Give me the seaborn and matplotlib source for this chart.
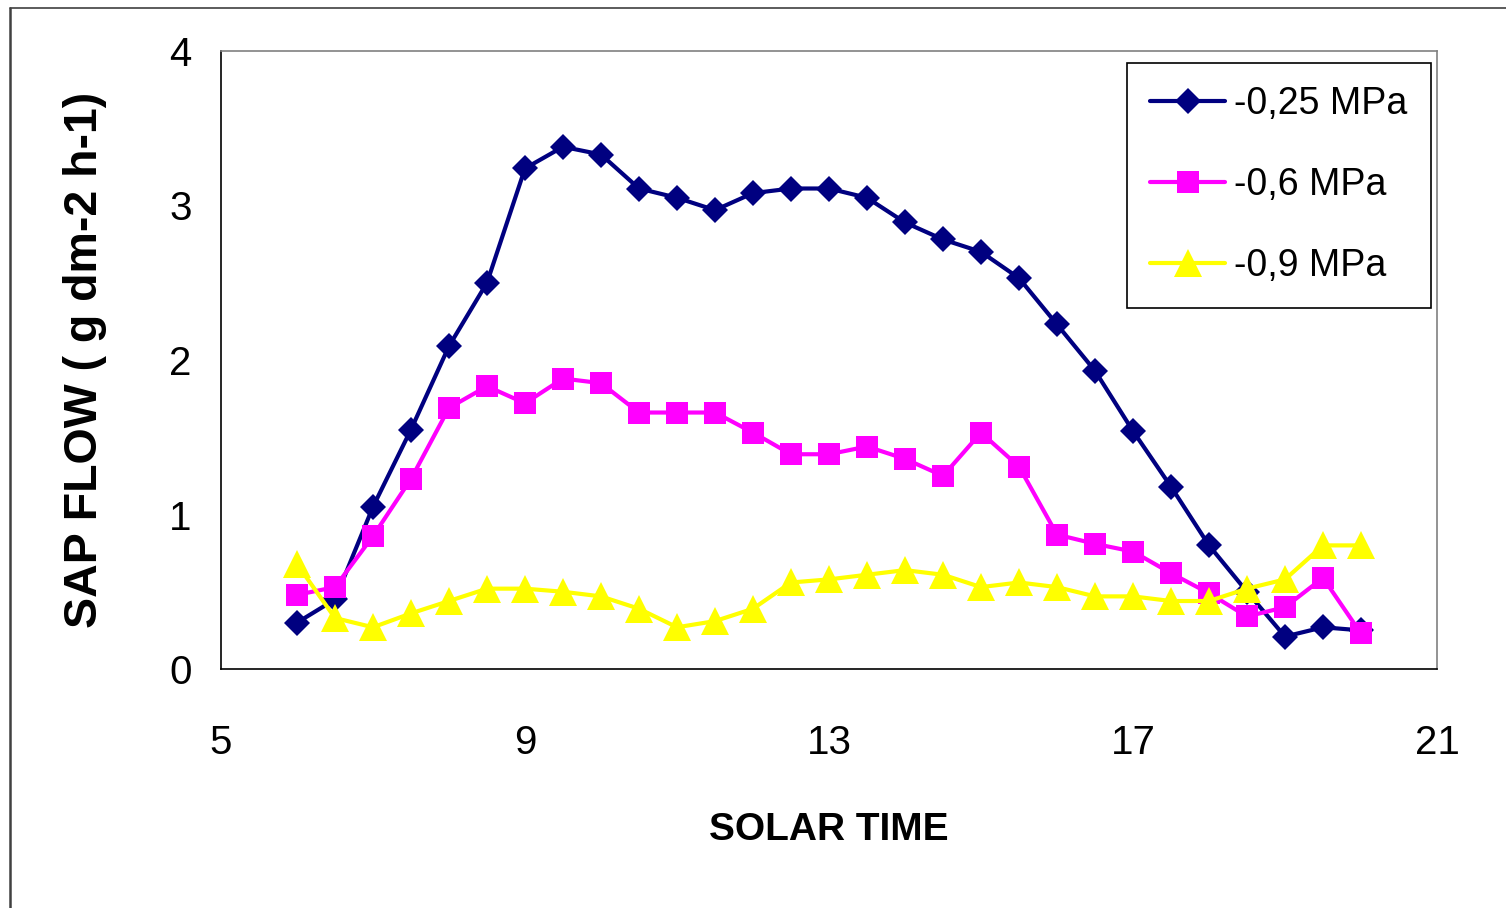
import matplotlib
matplotlib.use("Agg")
import matplotlib.pyplot as plt
from matplotlib.lines import Line2D
import pandas as pd
import seaborn as sns

# Sap flow over the day at three soil water potentials
solar_time = [6, 6.5, 7, 7.5, 8, 8.5, 9, 9.5, 10, 10.5, 11, 11.5, 12, 12.5, 13,
              13.5, 14, 14.5, 15, 15.5, 16, 16.5, 17, 17.5, 18, 18.5, 19, 19.5, 20]
flow_025 = [0.30, 0.45, 1.05, 1.55, 2.09, 2.50, 3.24, 3.38, 3.33, 3.11, 3.05, 2.97,
            3.08, 3.11, 3.11, 3.05, 2.89, 2.78, 2.70, 2.53, 2.23, 1.93, 1.54, 1.18,
            0.80, 0.50, 0.21, 0.27, 0.25]
flow_06 = [0.48, 0.53, 0.86, 1.23, 1.69, 1.83, 1.72, 1.88, 1.85, 1.66, 1.66, 1.66,
           1.53, 1.39, 1.39, 1.44, 1.36, 1.25, 1.53, 1.31, 0.87, 0.81, 0.76, 0.62,
           0.49, 0.34, 0.40, 0.59, 0.23]
flow_09 = [0.68, 0.33, 0.27, 0.36, 0.44, 0.52, 0.52, 0.50, 0.47, 0.39, 0.27, 0.31,
           0.39, 0.56, 0.58, 0.61, 0.64, 0.61, 0.53, 0.56, 0.53, 0.47, 0.47, 0.44,
           0.44, 0.52, 0.58, 0.80, 0.80]
series_labels = ["-0,25 MPa", "-0,6 MPa", "-0,9 MPa"]
x_ticks = [5, 9, 13, 17, 21]
y_ticks = [0, 1, 2, 3, 4]

sns.set_style("white")
plt.rcParams["font.family"] = ["Liberation Sans", "DejaVu Sans"]
plt.rcParams["text.color"] = "black"
plt.rcParams["axes.labelcolor"] = "black"

W, H = 1506, 908
fig = plt.figure(figsize=(W / 100, H / 100), dpi=100)
ax = fig.add_axes([221 / W, 1 - 669 / H, (1437 - 221) / W, (669 - 51) / H])

df = pd.DataFrame({
    "time": solar_time * 3,
    "flow": flow_025 + flow_06 + flow_09,
    "level": [series_labels[0]] * len(solar_time)
             + [series_labels[1]] * len(solar_time)
             + [series_labels[2]] * len(solar_time),
})

styles = {
    series_labels[0]: dict(color="#000080", marker="D", markersize=13.5),
    series_labels[1]: dict(color="#FF00FF", marker="s", markersize=16),
    series_labels[2]: dict(color="#FFFF00", marker="^", markersize=20),
}
for i, lvl in enumerate(series_labels):
    st = styles[lvl]
    sns.lineplot(data=df[df["level"] == lvl], x="time", y="flow", ax=ax,
                 color=st["color"], marker=st["marker"], markersize=st["markersize"],
                 markeredgewidth=0, linewidth=3, label=lvl, zorder=3 + i)

ax.set_xlim(5, 21)
ax.set_ylim(0, 4)
ax.set_xticks(x_ticks)
ax.set_yticks(y_ticks)
ax.set_xticklabels([str(t) for t in x_ticks], fontsize=29)
ax.set_yticklabels([str(t) for t in y_ticks], fontsize=29)
ax.tick_params(axis="x", direction="inout", length=19, width=1.1, color="black",
               labelcolor="black", pad=30)
ax.tick_params(axis="y", direction="inout", length=16, width=1.1, color="black",
               labelcolor="black", pad=13)

for side in ("left", "bottom"):
    ax.spines[side].set_color("black")
    ax.spines[side].set_linewidth(1.2)
for side in ("top", "right"):
    ax.spines[side].set_color("#808080")
    ax.spines[side].set_linewidth(1.2)

ax.set_xlabel("SOLAR TIME", fontweight="bold", fontsize=28)
ax.xaxis.label.set_va("center")
ax.xaxis.set_label_coords(0.5, (669 - 830) / 618)
ax.set_ylabel("SAP FLOW ( g dm-2 h-1)", fontweight="bold", fontsize=33.5)
ax.yaxis.label.set_va("center")
ax.yaxis.set_label_coords((85 - 221) / 1216, 0.5)

leg = ax.legend(loc="upper right", bbox_to_anchor=((1431 - 221) / 1216, (669 - 63) / 618),
                borderaxespad=0, frameon=True, fancybox=False, shadow=False,
                prop={"size": 27}, handlelength=2.0,
                handletextpad=0.25, labelspacing=1.2, borderpad=0.62)
leg.get_frame().set_edgecolor("black")
leg.get_frame().set_linewidth(1.2)
leg.get_frame().set_alpha(1)

# Chart area frame (top and left edges)
fig.add_artist(Line2D([10 / W, 1.0], [1 - 8 / H, 1 - 8 / H], transform=fig.transFigure,
                      color="#404040", linewidth=1.2))
fig.add_artist(Line2D([10 / W, 10 / W], [1 - 8 / H, 0.0], transform=fig.transFigure,
                      color="#404040", linewidth=1.8))

fig.savefig("out.png", dpi=100, facecolor="white")
